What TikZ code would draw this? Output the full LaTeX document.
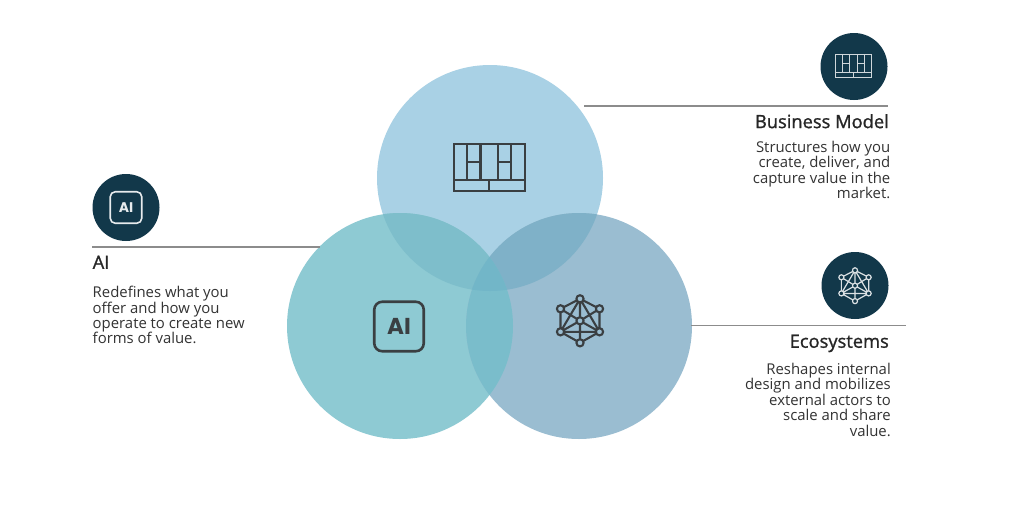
\documentclass[tikz,border=0pt]{standalone}
\usepackage{fontspec}
\setmainfont{Open Sans}
\newfontfamily\headfont[FakeBold=1.2]{Open Sans}
\newfontfamily\iconfont{Poppins}
\definecolor{topc}{HTML}{A9D1E5}
\definecolor{leftc}{HTML}{8ECAD3}
\definecolor{rightc}{HTML}{9ABDD1}
\definecolor{tlc}{HTML}{7EBECB}
\definecolor{trc}{HTML}{7FB1C8}
\definecolor{lrc}{HTML}{7ABDCB}
\definecolor{allc}{HTML}{72B6C8}
\definecolor{navy}{HTML}{12384A}
\definecolor{ink}{HTML}{3A3F42}
\definecolor{rulec}{HTML}{8C8C8C}
\definecolor{bodyc}{HTML}{333333}
\tikzset{
  x=1pt,y=-1pt,
  badge/.style={circle,fill=navy,draw=none,minimum size=67pt,inner sep=0pt},
  rulecon/.style={draw=rulec,line width=1.2pt},
  headr/.style={anchor=north east,inner sep=0pt,text=black!85,font=\headfont\fontsize{18.3}{22}\selectfont},
  headl/.style={anchor=north west,inner sep=0pt,text=black!85,font=\headfont\fontsize{18.3}{22}\selectfont},
  bodyr/.style={anchor=north east,inner sep=0pt,align=right,text=bodyc,font=\fontsize{14.9}{15.45}\selectfont},
  bodyl/.style={anchor=north west,inner sep=0pt,align=left,text=bodyc,font=\fontsize{14.9}{15.45}\selectfont},
  pics/gridicon/.style={code={
    \draw[line width=#1,line join=miter]
      (-35.5,-23.5) rectangle (35.5,23.5)
      (-35.5,12.5) -- (35.5,12.5)
      (-22.5,-23.5) -- (-22.5,12.5)
      (-9,-23.5) -- (-9,12.5)
      (8.5,-23.5) -- (8.5,12.5)
      (21.5,-23.5) -- (21.5,12.5)
      (-22.5,-5.5) -- (-9,-5.5)
      (8.5,-5.5) -- (21.5,-5.5)
      (-0.5,12.5) -- (-0.5,23.5);
  }},
  pics/neticon/.style={code={
    \coordinate (t) at (0,-22);
    \coordinate (ul) at (-19.5,-12);
    \coordinate (ur) at (19.5,-12);
    \coordinate (c) at (0,0);
    \coordinate (ll) at (-19.5,11);
    \coordinate (lr) at (19.5,11);
    \coordinate (b) at (0,22);
    \draw[line width=#1,line cap=round]
      (t)--(ul)--(ll)--(b)--(lr)--(ur)--(t)
      (ll)--(lr) (t)--(b) (t)--(ll) (t)--(lr)
      (ul)--(c)--(ur) (ll)--(c)--(lr);
    \foreach \p in {t,ul,ur,c,ll,lr,b}
      \filldraw[line width=#1,fill=netfill] (\p) circle (3.6);
  }},
}
\colorlet{netfill}{rightc}
\begin{document}
\begin{tikzpicture}
\useasboundingbox (0,0) rectangle (1024,512);
\fill[white] (0,0) rectangle (1024,512);
% circles
\fill[topc] (490,178) circle (113);
\fill[leftc] (400,326) circle (113);
\fill[rightc] (579,326) circle (113);
\begin{scope}
  \clip (490,178) circle (113);
  \fill[tlc] (400,326) circle (113);
\end{scope}
\begin{scope}
  \clip (490,178) circle (113);
  \fill[trc] (579,326) circle (113);
\end{scope}
\begin{scope}
  \clip (400,326) circle (113);
  \fill[lrc] (579,326) circle (113);
\end{scope}
\begin{scope}
  \clip (490,178) circle (113);
  \clip (400,326) circle (113);
  \fill[allc] (579,326) circle (113);
\end{scope}
% big icons
\pic[draw=ink] at (489.5,167.7) {gridicon=2.3pt};
\pic[draw=ink] at (580,320.8) {neticon=2.1pt};
\node[draw=ink,line width=2.6pt,rounded corners=8pt,minimum size=49.5pt,inner sep=0pt,text=ink,font=\iconfont\bfseries\fontsize{23}{23}\selectfont] (aibig) at (399,326.5) {AI};
% badges
\node[badge] (badgeai) at (126,207.5) {};
\node[badge] (badgebm) at (854,66.5) {};
\node[badge] (badgeeco) at (855,285.5) {};
\node[draw=white!90!navy,line width=1.6pt,rounded corners=5pt,minimum size=31.5pt,inner sep=0pt,text=white!90!navy,font=\iconfont\bfseries\fontsize{14}{14}\selectfont] (aismall) at (126,207.5) {AI};
\pic[draw=white!80!navy,scale=.5] at (853.7,66) {gridicon={1pt}};
\colorlet{netfill}{navy}
\pic[draw=white!85!navy,scale=.7] at (855,285.7) {neticon=1.2pt};
% connectors
\coordinate (bmA) at (584,106);
\coordinate (bmB) at (888,106);
\coordinate (aiA) at (92,247);
\coordinate (aiB) at (320,247);
\coordinate (ecoA) at (691,325.5);
\coordinate (ecoB) at (906,325.5);
\draw[rulecon] (bmA) -- (bmB);
\draw[rulecon] (aiA) -- (aiB);
\draw[rulecon] (ecoA) -- (ecoB);
% text
\node[headr] (bmh) at (889,114) {Business Model};
\node[bodyr] (bmt) at (890.5,141) {Structures how you\\create, deliver, and\\capture value in the\\market.};
\node[headl] (aih) at (92.5,255.5) {AI};
\node[bodyl] (ait) at (92.5,286) {Redefines what you\\offer and how you\\operate to create new\\forms of value.};
\node[headr] (ecoh) at (889,334.5) {Ecosystems};
\node[bodyr] (ecot) at (891,363) {Reshapes internal\\design and mobilizes\\external actors to\\scale and share\\value.};
\end{tikzpicture}
\end{document}
